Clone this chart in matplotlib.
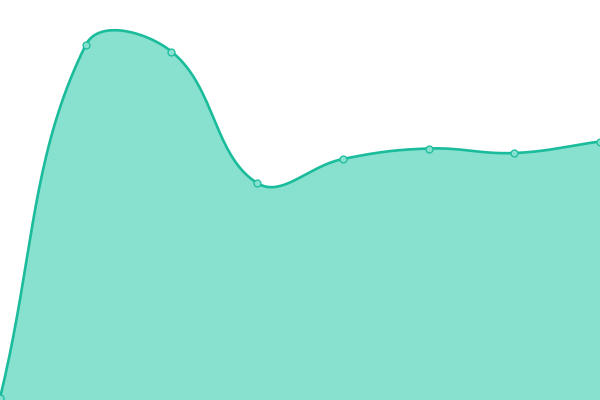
import numpy as np
import matplotlib
matplotlib.use("Agg")
import matplotlib.pyplot as plt

# valores de la serie (una por punto, eje y de 0 a 400)
etiquetas = ["A", "B", "C", "D", "E", "F", "G", "H"]
valores = [2, 355, 348.5, 217, 241, 251.5, 247, 258.5]

color_linea = "#1abc9c"
color_relleno = "#88e0cf"
tension = 0.4


def curva_suave(px, py, t, pasos=40):
    # curva bezier tipo Chart.js con tension t, en coordenadas de pantalla
    n = len(px)
    cx_prev, cy_prev, cx_next, cy_next = [], [], [], []
    for i in range(n):
        p0 = (px[i - 1], py[i - 1]) if i > 0 else (px[i], py[i])
        p1 = (px[i], py[i])
        p2 = (px[i + 1], py[i + 1]) if i < n - 1 else (px[i], py[i])
        d01 = np.hypot(p1[0] - p0[0], p1[1] - p0[1])
        d12 = np.hypot(p2[0] - p1[0], p2[1] - p1[1])
        s01 = d01 / (d01 + d12) if d01 + d12 else 0
        s12 = d12 / (d01 + d12) if d01 + d12 else 0
        fa, fb = t * s01, t * s12
        cx_prev.append(p1[0] - fa * (p2[0] - p0[0]))
        cy_prev.append(p1[1] - fa * (p2[1] - p0[1]))
        cx_next.append(p1[0] + fb * (p2[0] - p0[0]))
        cy_next.append(p1[1] + fb * (p2[1] - p0[1]))
    xs, ys = [], []
    u = np.linspace(0, 1, pasos)
    for i in range(n - 1):
        x0, y0 = px[i], py[i]
        x1, y1 = cx_next[i], cy_next[i]
        x2, y2 = cx_prev[i + 1], cy_prev[i + 1]
        x3, y3 = px[i + 1], py[i + 1]
        bx = (1 - u) ** 3 * x0 + 3 * (1 - u) ** 2 * u * x1 + 3 * (1 - u) * u ** 2 * x2 + u ** 3 * x3
        by = (1 - u) ** 3 * y0 + 3 * (1 - u) ** 2 * u * y1 + 3 * (1 - u) * u ** 2 * y2 + u ** 3 * y3
        xs.extend(bx)
        ys.extend(by)
    return np.array(xs), np.array(ys)


fig = plt.figure(figsize=(6, 4), dpi=100)
ax = fig.add_axes([0, 0, 1, 1])
ax.set_xlim(0, len(valores) - 1)
ax.set_ylim(0, 400)
ax.axis("off")

x = np.arange(len(valores))
pantalla = ax.transData.transform(np.column_stack([x, valores]))
sx, sy = curva_suave(pantalla[:, 0], pantalla[:, 1], tension)
datos = ax.transData.inverted().transform(np.column_stack([sx, sy]))
cx, cy = datos[:, 0], datos[:, 1]

ax.fill_between(cx, cy, 0, color=color_relleno, linewidth=0)
ax.plot(cx, cy, color=color_linea, linewidth=1.9, solid_capstyle="round")
ax.plot(x, valores, "o", markersize=5, markerfacecolor=color_relleno,
        markeredgecolor=color_linea, markeredgewidth=0.9)

fig.savefig("out.png", dpi=100)
